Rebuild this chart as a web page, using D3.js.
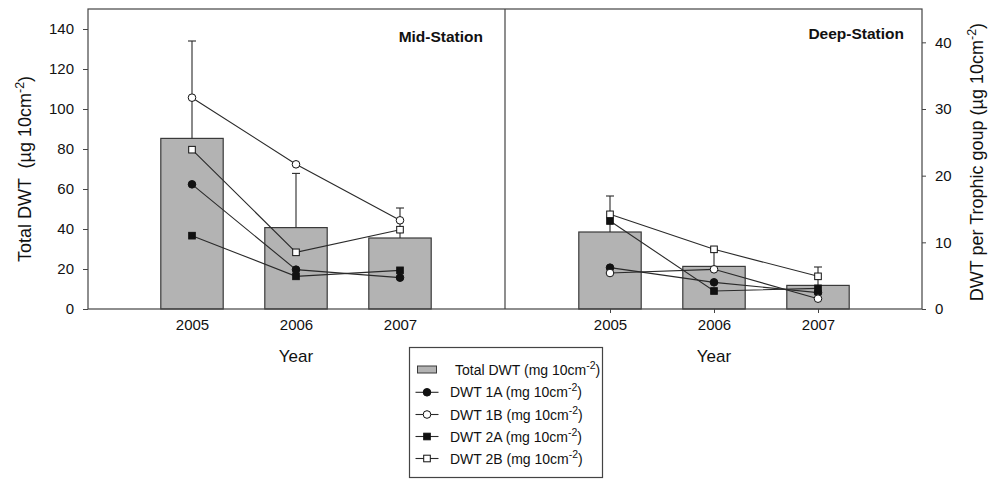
<!DOCTYPE html>
<html>
<head>
<meta charset="utf-8">
<script src="https://cdn.jsdelivr.net/npm/d3@7"></script>
<style>
  body { margin: 0; background: #fff; }
  svg { display: block; }
  text { font-family: "Liberation Sans", Arial, sans-serif; fill: #111; }
</style>
</head>
<body>
<svg id="chart" width="988" height="479"></svg>
<script>
// Years sampled at each station
const years = [2005, 2006, 2007];

// Total DWT (left axis) and upper standard error
const midTotal = [85.3, 40.7, 35.5];
const midTotalErr = [48.7, 27.1, 15.0];
const deepTotal = [38.5, 21.3, 11.8];
const deepTotalErr = [18.0, 8.7, 9.2];

// DWT per trophic group (right axis)
const mid1A = [18.7, 5.9, 4.7];
const mid1B = [31.7, 21.7, 13.3];
const mid2A = [11.0, 4.9, 5.8];
const mid2B = [23.9, 8.5, 11.9];
const deep1A = [6.2, 4.0, 2.45];
const deep1B = [5.4, 5.95, 1.55];
const deep2A = [13.2, 2.7, 3.1];
const deep2B = [14.2, 8.95, 4.9];

// Axis ticks
const leftTicks = [0, 20, 40, 60, 80, 100, 120, 140];
const rightTicks = [0, 10, 20, 30, 40];

const stationNames = ["Mid-Station", "Deep-Station"];
const legendLabels = ["Total DWT", "DWT 1A", "DWT 1B", "DWT 2A", "DWT 2B"];

const svg = d3.select("#chart");
const plotTop = 9, plotBottom = 309, plotLeft = 88, plotMid = 505, plotRight = 922;

const yL = d3.scaleLinear().domain([0, 150]).range([plotBottom, plotTop]);
const yR = d3.scaleLinear().domain([0, 45]).range([plotBottom, plotTop]);

const xMid = d3.scaleLinear().domain([2004, 2008]).range([plotLeft, plotMid - 1]);
const xDeep = d3.scaleLinear().domain([2004, 2008]).range([plotMid + 1, plotRight]);

const ink = "#2a2a2a";
const barFill = "#b3b3b3";

const groupStyle = [
  { shape: "circle", fill: "#111" },   // 1A
  { shape: "circle", fill: "#fff" },   // 1B
  { shape: "square", fill: "#111" },   // 2A
  { shape: "square", fill: "#fff" }    // 2B
];

function drawMarker(g, shape, fill, cx, cy) {
  if (shape === "circle") {
    g.append("circle").attr("cx", cx).attr("cy", cy).attr("r", 3.8)
      .attr("fill", fill).attr("stroke", "#111").attr("stroke-width", 1);
  } else {
    g.append("rect").attr("x", cx - 3.3).attr("y", cy - 3.3)
      .attr("width", 6.6).attr("height", 6.6)
      .attr("fill", fill).attr("stroke", "#111").attr("stroke-width", 1);
  }
}

function drawPanel(x, totals, errs, groups, ticked) {
  const g = svg.append("g");
  const bw = (x(2005) - x(2004)) * 0.6;

  // bars
  g.selectAll("rect.bar").data(years).enter().append("rect")
    .attr("class", "bar")
    .attr("x", d => x(d) - bw / 2)
    .attr("width", bw)
    .attr("y", (d, i) => yL(totals[i]))
    .attr("height", (d, i) => yL(0) - yL(totals[i]))
    .attr("fill", barFill).attr("stroke", "#3a3a3a").attr("stroke-width", 1.2);

  // upper error bars
  years.forEach((yr, i) => {
    const cx = x(yr);
    const yTop = yL(totals[i] + errs[i]);
    g.append("line").attr("x1", cx).attr("x2", cx)
      .attr("y1", yL(totals[i])).attr("y2", yTop)
      .attr("stroke", ink).attr("stroke-width", 1.1);
    g.append("line").attr("x1", cx - 4).attr("x2", cx + 4)
      .attr("y1", yTop).attr("y2", yTop)
      .attr("stroke", ink).attr("stroke-width", 1.1);
  });

  // trophic group lines
  const line = d3.line().x((d, i) => x(years[i])).y(d => yR(d));
  groups.forEach(vals => {
    g.append("path").attr("d", line(vals))
      .attr("fill", "none").attr("stroke", ink).attr("stroke-width", 1.1);
  });
  groups.forEach((vals, k) => {
    vals.forEach((v, i) => drawMarker(g, groupStyle[k].shape, groupStyle[k].fill, x(years[i]), yR(v)));
  });

  // bottom axis
  const ax = d3.axisBottom(x).tickValues(years).tickFormat(d3.format("d"))
    .tickSize(ticked ? 4 : 0).tickPadding(ticked ? 6.5 : 10.5);
  const axg = svg.append("g").attr("transform", `translate(0,${plotBottom})`).call(ax);
  axg.select(".domain").remove();
  axg.selectAll("line").attr("stroke", "#444");
  axg.selectAll("text").attr("font-size", 15).attr("fill", "#111")
    .attr("font-family", "Liberation Sans, Arial, sans-serif");

  // x-axis title
  svg.append("text").attr("x", x(2006)).attr("y", 362)
    .attr("text-anchor", "middle").attr("font-size", 17).text("Year");
}

drawPanel(xMid, midTotal, midTotalErr, [mid1A, mid1B, mid2A, mid2B], false);
drawPanel(xDeep, deepTotal, deepTotalErr, [deep1A, deep1B, deep2A, deep2B], true);

// frame and panel divider
svg.append("rect").attr("x", plotLeft).attr("y", plotTop)
  .attr("width", plotRight - plotLeft).attr("height", plotBottom - plotTop)
  .attr("fill", "none").attr("stroke", "#444").attr("stroke-width", 1.2);
svg.append("line").attr("x1", plotMid).attr("x2", plotMid).attr("y1", plotTop).attr("y2", plotBottom)
  .attr("stroke", "#444").attr("stroke-width", 1.2);

// left axis
const lAx = svg.append("g").attr("transform", `translate(${plotLeft},0)`)
  .call(d3.axisLeft(yL).tickValues(leftTicks).tickSize(5).tickPadding(9));
lAx.select(".domain").remove();
lAx.selectAll("line").attr("stroke", "#444");
lAx.selectAll("text").attr("font-size", 15).attr("fill", "#111")
  .attr("font-family", "Liberation Sans, Arial, sans-serif");

// right axis
const rAx = svg.append("g").attr("transform", `translate(${plotRight},0)`)
  .call(d3.axisRight(yR).tickValues(rightTicks).tickSize(4).tickPadding(9));
rAx.select(".domain").remove();
rAx.selectAll("line").attr("stroke", "#444");
rAx.selectAll("text").attr("font-size", 15).attr("fill", "#111")
  .attr("font-family", "Liberation Sans, Arial, sans-serif");

// station titles
svg.append("text").attr("x", 483).attr("y", 42).attr("text-anchor", "end")
  .attr("font-size", 15.5).attr("font-weight", "bold").text(stationNames[0]);
svg.append("text").attr("x", 904).attr("y", 39).attr("text-anchor", "end")
  .attr("font-size", 15.5).attr("font-weight", "bold").text(stationNames[1]);

// titles with superscript units
function unitTitle(sel, main, unitPrefix, supSize, shift) {
  sel.append("tspan").text(main + unitPrefix);
  sel.append("tspan").attr("dy", -shift).attr("font-size", supSize).text("-2");
  sel.append("tspan").attr("dy", shift).text(")");
}
const lt = svg.append("text").attr("transform", "translate(31,169) rotate(-90)")
  .attr("text-anchor", "middle").attr("font-size", 18).attr("xml:space", "preserve");
unitTitle(lt, "Total DWT  ", "(µg 10cm", 12.5, 7);

const rt = svg.append("text").attr("transform", "translate(983,162) rotate(-90)")
  .attr("text-anchor", "middle").attr("font-size", 18);
unitTitle(rt, "DWT per Trophic goup ", "(µg 10cm", 12.5, 7);

// legend
const lg = svg.append("g");
lg.append("rect").attr("x", 409.5).attr("y", 347.5).attr("width", 193).attr("height", 130)
  .attr("fill", "#fff").attr("stroke", "#444").attr("stroke-width", 1.2);
const rowY = [369.5, 392.3, 414.5, 436.5, 458.5];
lg.append("rect").attr("x", 417.5).attr("y", rowY[0] - 3.5).attr("width", 19).attr("height", 7)
  .attr("fill", barFill).attr("stroke", "#3a3a3a").attr("stroke-width", 1);
groupStyle.forEach((s, k) => {
  const yy = rowY[k + 1];
  lg.append("line").attr("x1", 415.5).attr("x2", 438.5).attr("y1", yy).attr("y2", yy)
    .attr("stroke", ink).attr("stroke-width", 1.1);
  drawMarker(lg, s.shape, s.fill, 427, yy);
});
legendLabels.forEach((lab, k) => {
  const t = lg.append("text").attr("x", k === 0 ? 455 : 450).attr("y", rowY[k] + 5)
    .attr("font-size", 14);
  unitTitle(t, lab + " ", "(mg 10cm", 10.5, 6);
});
</script>
</body>
</html>
